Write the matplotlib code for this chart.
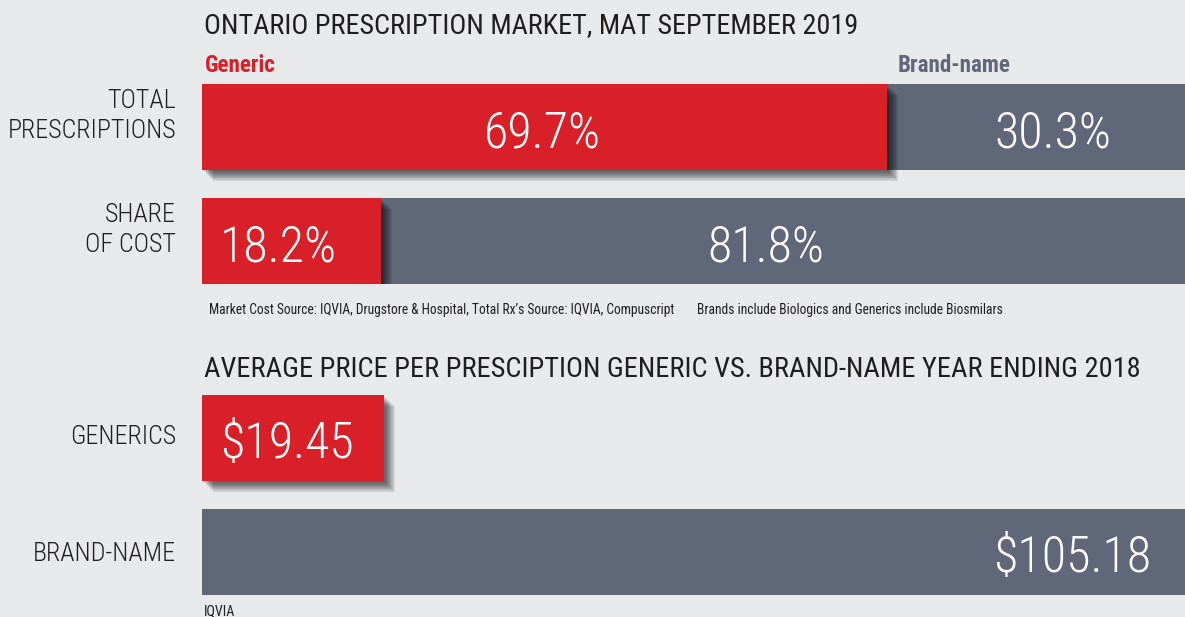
import matplotlib
matplotlib.use("Agg")
import matplotlib.pyplot as plt
import matplotlib.patheffects as pe

# data
market_rows = ["TOTAL\nPRESCRIPTIONS", "SHARE\nOF COST"]
generic_share = [69.7, 18.2]
brand_share = [30.3, 81.8]
price_rows = ["GENERICS", "BRAND-NAME"]
avg_price = [19.45, 105.18]

RED = "#d91f27"
SLATE = "#5f6779"
BG = "#e8e9eb"
INK = "#1e1e1e"
FONT = "Roboto Condensed"

W, H = 1185, 617
fig = plt.figure(figsize=(W / 72, H / 72), dpi=72, facecolor=BG)
plt.rcParams["font.family"] = [FONT, "DejaVu Sans"]


def px_axes(left, top, right, bottom):
    ax = fig.add_axes([left / W, 1 - bottom / H, (right - left) / W, (bottom - top) / H])
    ax.set_axis_off()
    ax.set_facecolor("none")
    return ax


def shadow():
    # fake soft drop shadow: stack of faint offset copies
    fx = [pe.SimplePatchShadow(offset=(d * 0.7, -d * 0.7), alpha=0.05, shadow_rgbFace="black")
          for d in range(1, 17)]
    return fx + [pe.Normal()]


bh = 86 / 114
ylim = (1 + bh / 2, -bh / 2)

# ---- top: market share
ax1 = px_axes(202, 84, 1185, 284)
ax1.set_xlim(0, 100)
ax1.set_ylim(*ylim)
ys = range(len(market_rows))
ax1.barh(ys, brand_share, left=generic_share, height=bh, color=SLATE, zorder=1)
bars = ax1.barh(ys, generic_share, height=bh, color=RED, zorder=2)
for b in bars:
    b.set_path_effects(shadow())

for i, lab in enumerate(market_rows):
    ax1.annotate(lab, (0, i), xytext=(-26, 11), textcoords="offset points",
                 ha="right", va="center", fontsize=26, fontweight=300, color=INK,
                 linespacing=1.27, multialignment="right")

num_kw = dict(textcoords="offset points", va="baseline", fontsize=50, fontweight=300, color="white")
ax1.annotate(f"{generic_share[0]}%", (generic_share[0] / 2, 0), xytext=(-2, -20), ha="center", **num_kw)
ax1.annotate(f"{brand_share[0]}%", (generic_share[0] + brand_share[0] / 2, 0), xytext=(17, -20), ha="center", **num_kw)
ax1.annotate(f"{generic_share[1]}%", (0, 1), xytext=(18, -20), ha="left", **num_kw)
ax1.annotate(f"{brand_share[1]}%", (generic_share[1] + brand_share[1] / 2, 1), xytext=(-17, -20), ha="center", **num_kw)

ax1.annotate("Generic", (0, -bh / 2), xytext=(3, 12), textcoords="offset points",
             ha="left", va="baseline", fontsize=23, fontweight="bold", color=RED)
ax1.annotate("Brand-name", (generic_share[0], -bh / 2), xytext=(10, 12), textcoords="offset points",
             ha="left", va="baseline", fontsize=23, fontweight="bold", color=SLATE)

# ---- bottom: average price
ax2 = px_axes(202, 395, 1185, 595)
ax2.set_xlim(0, avg_price[1])
ax2.set_ylim(*ylim)
ax2.barh([1], [avg_price[1]], height=bh, color=SLATE, zorder=1)
gb = ax2.barh([0], [avg_price[0]], height=bh, color=RED, zorder=2)
gb[0].set_path_effects(shadow())

for i, lab in enumerate(price_rows):
    ax2.annotate(lab, (0, i), xytext=(-26, 1 if i == 0 else -2), textcoords="offset points",
                 ha="right", va="center", fontsize=26, fontweight=300, color=INK)
ax2.annotate(f"${avg_price[0]:.2f}", (0, 0), xytext=(18, -20), ha="left", **num_kw)
ax2.annotate(f"${avg_price[1]:.2f}", (avg_price[1], 1), xytext=(-34, -20), ha="right", **num_kw)

# ---- titles and notes
fig.text(204 / W, 1 - 33 / H, "ONTARIO PRESCRIPTION MARKET, MAT SEPTEMBER 2019",
         fontsize=28.2, color=INK, va="baseline")
fig.text(204 / W, 1 - 377 / H, "AVERAGE PRICE PER PRESCIPTION GENERIC VS. BRAND-NAME YEAR ENDING 2018",
         fontsize=28.4, color=INK, va="baseline")
fig.text(209 / W, 1 - 314 / H,
         "Market Cost Source: IQVIA, Drugstore & Hospital, Total Rx\u2019s Source: IQVIA, Compuscript",
         fontsize=13.5, color=INK, va="baseline")
fig.text(697 / W, 1 - 314 / H, "Brands include Biologics and Generics include Biosmilars",
         fontsize=13.5, color=INK, va="baseline")
fig.text(204 / W, 1 - 615 / H, "IQVIA", fontsize=14, color=INK, va="baseline")

fig.savefig("out.png", dpi=72, facecolor=BG)
